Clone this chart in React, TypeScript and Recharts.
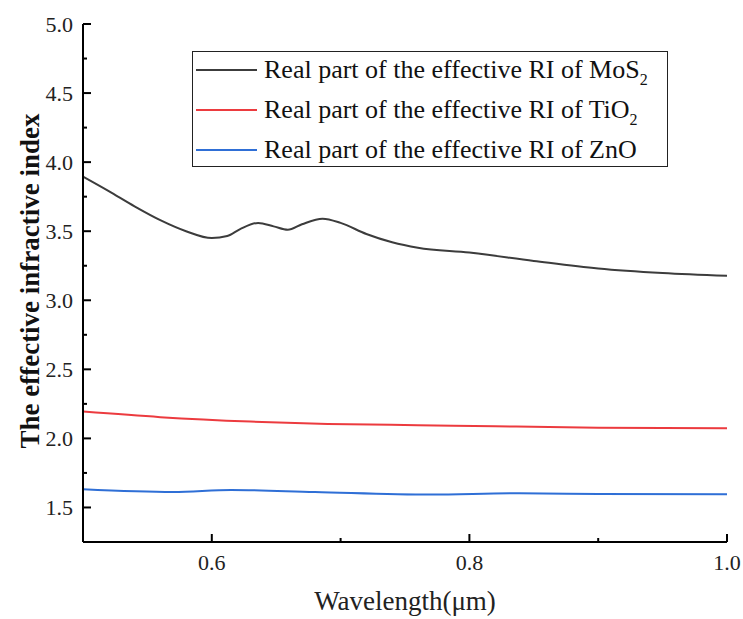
import { LineChart, Line, XAxis, YAxis, Legend, Label } from 'recharts';

const mosWavelength = [0.5, 0.52, 0.54, 0.56, 0.58, 0.6, 0.612, 0.622, 0.636, 0.648, 0.659, 0.67, 0.686, 0.7, 0.72, 0.74, 0.76, 0.8, 0.85, 0.9, 0.95, 1.0];
const mosIndex = [3.895, 3.79, 3.68, 3.58, 3.5, 3.45, 3.465, 3.515, 3.56, 3.535, 3.51, 3.55, 3.59, 3.56, 3.48, 3.42, 3.38, 3.345, 3.285, 3.23, 3.197, 3.177];

const tioWavelength = [0.5, 0.56, 0.63, 0.69, 0.76, 0.82, 0.9, 1.0];
const tioIndex = [2.194, 2.154, 2.122, 2.105, 2.096, 2.088, 2.078, 2.074];

const znoWavelength = [0.5, 0.57, 0.615, 0.68, 0.77, 0.835, 0.9, 1.0];
const znoIndex = [1.632, 1.612, 1.627, 1.612, 1.593, 1.603, 1.598, 1.595];

const xTicks = [0.5, 0.6, 0.7, 0.8, 0.9, 1.0];
const xLabeled = [0.6, 0.8, 1.0];
const yTicks = [1.5, 1.75, 2.0, 2.25, 2.5, 2.75, 3.0, 3.25, 3.5, 3.75, 4.0, 4.25, 4.5, 4.75, 5.0];

const legendItems = [
  { base: 'Real part of the effective RI of MoS', sub: '2', color: '#3c3c3c' },
  { base: 'Real part of the effective RI of TiO', sub: '2', color: '#ec3b3f' },
  { base: 'Real part of the effective RI of ZnO', sub: '', color: '#2f6fd6' },
];

const zip = (xs: number[], ys: number[]) => xs.map((x, i) => ({ x, y: ys[i] }));

const FONT = '"Liberation Serif", "Times New Roman", serif';

const XTick = ({ x, y, payload }: any) => {
  const major = xLabeled.some((v) => Math.abs(v - payload.value) < 1e-6);
  return (
    <g>
      <line x1={x} x2={x} y1={y} y2={y - (major ? 8 : 4)} stroke='#000' strokeWidth={2} />
      {major && (
        <text x={x} y={y + 28} textAnchor='middle' fontSize={22} fill='#222' fontFamily={FONT}>
          {payload.value.toFixed(1)}
        </text>
      )}
    </g>
  );
};

const YTick = ({ x, y, payload }: any) => {
  const major = Math.abs(payload.value * 2 - Math.round(payload.value * 2)) < 1e-6;
  return (
    <g>
      <line x1={x} x2={x + (major ? 8 : 4)} y1={y} y2={y} stroke='#000' strokeWidth={2} />
      {major && (
        <text x={x - 10} y={y + 7.5} textAnchor='end' fontSize={22} fill='#222' fontFamily={FONT}>
          {payload.value.toFixed(1)}
        </text>
      )}
    </g>
  );
};

const LegendBox = () => (
  <div
    style={{
      width: 476,
      height: 116,
      boxSizing: 'border-box',
      border: '1.5px solid #222',
      background: '#fff',
      position: 'relative',
      fontFamily: FONT,
    }}
  >
    {legendItems.map((item, i) => (
      <div key={i} style={{ position: 'absolute', left: 0, top: 18 + i * 40 - 16, height: 32, display: 'flex', alignItems: 'center' }}>
        <svg width={71} height={32} style={{ display: 'block' }}>
          <line x1={3} x2={64} y1={16} y2={16} stroke={item.color} strokeWidth={2} />
        </svg>
        <span style={{ fontSize: 26, color: '#111', whiteSpace: 'nowrap', lineHeight: '32px' }}>
          {item.base}
          {item.sub && <sub style={{ fontSize: 16, verticalAlign: '-7px', lineHeight: 0 }}>{item.sub}</sub>}
        </span>
      </div>
    ))}
  </div>
);

export default function App() {
  return (
    <div style={{ position: 'absolute', left: 0, top: 0, width: 743, height: 619, background: '#fff' }}>
      <LineChart width={743} height={619} margin={{ top: 24, right: 16, bottom: 0, left: 0 }}>
        <XAxis
          dataKey='x'
          type='number'
          domain={[0.5, 1.0]}
          ticks={xTicks}
          interval={0}
          height={77}
          tickSize={0}
          tickMargin={0}
          tickLine={false}
          tick={<XTick />}
          axisLine={{ stroke: '#000', strokeWidth: 2 }}
          allowDataOverflow
        >
          <Label
            content={() => (
              <text x={405} y={610} textAnchor='middle' fontSize={27} fill='#222' fontFamily={FONT}>
                Wavelength(μm)
              </text>
            )}
          />
        </XAxis>
        <XAxis
          xAxisId='top'
          orientation='top'
          type='number'
          domain={[0.5, 1.0]}
          height={0}
          tick={false}
          tickLine={false}
          axisLine={{ stroke: '#000', strokeWidth: 2 }}
        />
        <YAxis
          type='number'
          domain={[1.25, 5.0]}
          ticks={yTicks}
          interval={0}
          width={83}
          tickSize={0}
          tickMargin={0}
          tickLine={false}
          tick={<YTick />}
          axisLine={{ stroke: '#000', strokeWidth: 2 }}
          allowDataOverflow
        >
          <Label
            content={() => (
              <text
                x={30}
                y={281}
                transform='rotate(-90, 30, 281)'
                textAnchor='middle'
                dominantBaseline='central'
                fontSize={27}
                fontWeight='bold'
                fill='#111'
                fontFamily={FONT}
              >
                The effective infractive index
              </text>
            )}
          />
        </YAxis>
        <YAxis
          yAxisId='right'
          orientation='right'
          type='number'
          domain={[1.25, 5.0]}
          width={0}
          tick={false}
          tickLine={false}
          axisLine={{ stroke: '#000', strokeWidth: 2 }}
        />
        <Legend
          layout='vertical'
          align='center'
          verticalAlign='middle'
          content={() => <LegendBox />}
          wrapperStyle={{ position: 'absolute', left: 192, top: 51, width: 476, height: 116 }}
        />
        <Line
          data={zip(mosWavelength, mosIndex)}
          dataKey='y'
          name='MoS2'
          type='monotone'
          stroke={legendItems[0].color}
          strokeWidth={2}
          dot={false}
          isAnimationActive={false}
        />
        <Line
          data={zip(tioWavelength, tioIndex)}
          dataKey='y'
          name='TiO2'
          type='monotone'
          stroke={legendItems[1].color}
          strokeWidth={2}
          dot={false}
          isAnimationActive={false}
        />
        <Line
          data={zip(znoWavelength, znoIndex)}
          dataKey='y'
          name='ZnO'
          type='monotone'
          stroke={legendItems[2].color}
          strokeWidth={2}
          dot={false}
          isAnimationActive={false}
        />
      </LineChart>
    </div>
  );
}
